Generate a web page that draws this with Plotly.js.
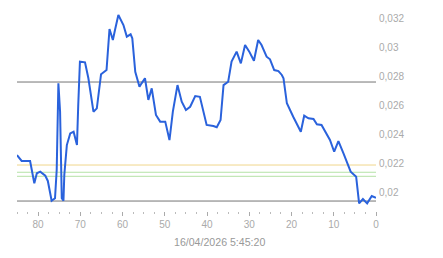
<!DOCTYPE html>
<html>
<head>
<meta charset="utf-8">
<script src="https://cdn.plot.ly/plotly-3.0.1.min.js"></script>
<style>html,body{margin:0;padding:0;background:#fff;}#chart{width:443px;height:258px;}</style>
</head>
<body>
<div id="chart"></div>
<script>
// Series (x = time index counting down to 0, y = value)
const xs = [85, 83.9, 81.9, 80.9, 80.3, 79.5, 78.3, 77.7, 76.8, 76.0, 75.6, 75.2, 74.8, 74.4, 74.0, 73.8, 73.2, 72.4, 71.6, 70.8,
  70.5, 70.1, 68.9, 68.1, 66.9, 66.1, 65.1, 63.8, 63.1, 62.3, 61.8, 61.0, 59.8, 59.0, 58.1, 57.7, 57.0, 56.0, 55.5, 54.7,
  53.9, 53.1, 52.1, 51.1, 49.9, 48.9, 48.1, 47.0, 46.0, 45.0, 44.0, 42.8, 41.7, 40.1, 38.5, 37.7, 36.8, 36.1, 35.0, 34.2,
  33.0, 32.0, 31.0, 30.0, 28.9, 27.9, 27.1, 25.9, 25.1, 24.1, 23.1, 22.3, 21.9, 21.1, 19.6, 18.8, 17.8, 17.0, 16.0, 14.8,
  14.0, 12.9, 11.7, 10.9, 9.9, 8.9, 7.7, 6.9, 6.0, 4.7, 4.0, 3.1, 2.1, 1.0, 0];
const ys = [0.02259, 0.02218, 0.02218, 0.02064, 0.02133, 0.02144, 0.02116, 0.02080, 0.01943, 0.01960, 0.02156, 0.02755, 0.02559, 0.01960, 0.01943, 0.02121, 0.02328, 0.02409, 0.02420, 0.02328,
  0.02605, 0.02905, 0.02900, 0.02790, 0.02559, 0.02582, 0.02818, 0.02847, 0.03131, 0.03055, 0.03124, 0.03228, 0.03158, 0.03078, 0.03094, 0.03066, 0.02835, 0.02732, 0.02755, 0.02790,
  0.02640, 0.02720, 0.02536, 0.02490, 0.02490, 0.02363, 0.02559, 0.02743, 0.02628, 0.02571, 0.02593, 0.02667, 0.02662, 0.02467, 0.02460, 0.02451, 0.02501, 0.02743, 0.02766, 0.02905,
  0.02974, 0.02893, 0.03020, 0.02974, 0.02911, 0.03055, 0.03020, 0.02939, 0.02921, 0.02847, 0.02840, 0.02813, 0.02790, 0.02617, 0.02524, 0.02479, 0.02420, 0.02531, 0.02513, 0.02508,
  0.02472, 0.02467, 0.02409, 0.02363, 0.02282, 0.02356, 0.02271, 0.02213, 0.02144, 0.02109, 0.01925, 0.01955, 0.01925, 0.01976, 0.01964];

// Reference levels
const greyLevels = [0.02764, 0.01941];
const yellowLevels = [0.02190];
const greenLevels = [0.02140, 0.02112];

// Tick labels
const xTickVals = [80, 70, 60, 50, 40, 30, 20, 10, 0];
const yTickVals = [0.020, 0.022, 0.024, 0.026, 0.028, 0.030, 0.032];
const yTickText = ["0,02", "0,022", "0,024", "0,026", "0,028", "0,03", "0,032"];
const xTitle = "16/04/2026 5:45:20";

const shapes = [];
function addLevels(levels, color) {
  levels.forEach(v => shapes.push({type: 'line', xref: 'paper', yref: 'y', x0: 0, x1: 1, y0: v, y1: v,
    line: {color: color, width: 1}, layer: 'below'}));
}
addLevels(greyLevels, '#757575');
addLevels(yellowLevels, '#f0d68c');
addLevels(greenLevels, '#b4e2a6');

const data = [{
  x: xs, y: ys, type: 'scatter', mode: 'lines',
  line: {color: '#2a62dc', width: 2}, hoverinfo: 'skip'
}];

const layout = {
  width: 443, height: 258,
  margin: {l: 17, r: 67, t: 5, b: 47},
  paper_bgcolor: '#fff', plot_bgcolor: '#fff',
  showlegend: false,
  font: {family: 'Liberation Sans, Arial, sans-serif', size: 10, color: '#aaa'},
  shapes: shapes,
  annotations: [{
    text: xTitle, xref: 'paper', yref: 'paper', x: 0.564, y: -0.149,
    xanchor: 'center', yanchor: 'middle', showarrow: false,
    font: {size: 10.6, color: '#999'}
  }],
  xaxis: {
    range: [85, 0], showgrid: false, zeroline: false, showline: false,
    tickmode: 'array', tickvals: xTickVals, ticktext: xTickVals.map(String),
    ticks: 'outside', ticklen: 4, tickwidth: 1, tickcolor: '#aaa',
    minor: {tickmode: 'linear', tick0: 0, dtick: 2.5, ticks: 'outside', ticklen: 2, tickwidth: 1, tickcolor: '#bbb'},
    tickfont: {size: 10, color: '#aaa'}
  },
  yaxis: {
    side: 'right', range: [0.018721, 0.032967], showgrid: false, zeroline: false, showline: false,
    tickmode: 'array', tickvals: yTickVals, ticktext: yTickText, ticks: '', ticklabelstandoff: 2,
    tickfont: {size: 10, color: '#aaa'}
  }
};

Plotly.newPlot('chart', data, layout, {staticPlot: true, displayModeBar: false});
</script>
</body>
</html>
